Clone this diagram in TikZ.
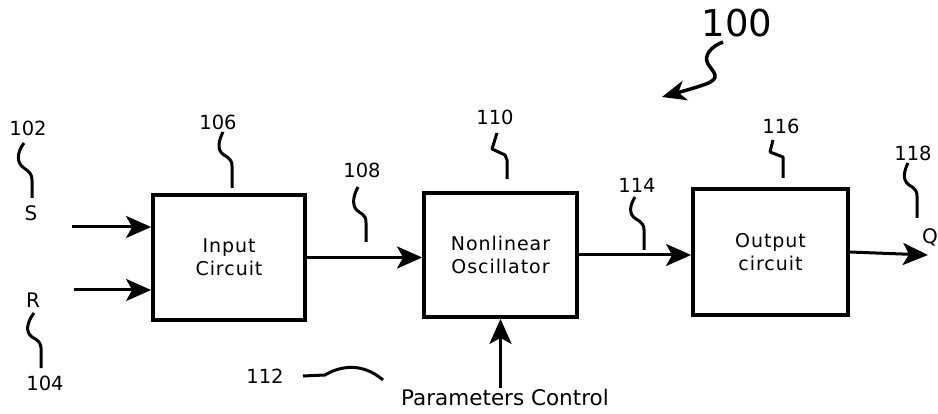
\documentclass[tikz,border=0pt]{standalone}
\usepackage{fontspec}
\setmainfont{DejaVu Sans}
\usetikzlibrary{arrows.meta}
\tikzset{
  blk/.style={draw, line width=3.8pt, minimum width=#1, inner sep=0pt, align=center, font=\fontsize{19}{23}\selectfont\addfontfeatures{LetterSpace=5}},
  arr/.style={line width=3pt, -{Stealth[length=25pt, width=22pt, inset=6pt]}},
  lead/.style={line width=3pt, line join=round},
  num/.style={font=\fontsize{19.5}{21}\selectfont, inner sep=0pt},
  sig/.style={font=\fontsize{20}{22}\selectfont, inner sep=0pt},
}
\begin{document}
\begin{tikzpicture}[x=1pt, y=-1pt]
\useasboundingbox (0,0) rectangle (938,414);
% blocks
\node[blk=152pt, minimum height=125pt] (in) at (229,257.5) {Input\\Circuit};
\node[blk=153pt, minimum height=124pt] (osc) at (500.5,255) {Nonlinear\\Oscillator};
\node[blk=155pt, minimum height=126pt] (out) at (770.5,252) {Output\\circuit};
% signal labels
\node[sig] (s) at (31,213) {S};
\node[sig] (r) at (33,300) {R};
\node[sig] (q) at (930,237) {Q};
\node[font=\fontsize{21.5}{24}\selectfont, inner sep=0pt] (par) at (505,397) {Parameters Control};
% free ends
\coordinate (sin) at (72,227);
\coordinate (rin) at (74,290);
\coordinate (qout) at (928,255);
% connectors
\draw[arr] (sin) -- (sin -| in.west);
\draw[arr] (rin) -- (rin -| in.west);
\draw[arr] (in.east) -- (in.east -| osc.west);
\draw[arr] (osc.east) -- (osc.east -| out.west);
\draw[arr] (out.east) -- (qout);
\draw[arr] (par.north -| osc.south) -- (osc.south);
% reference numbers
\node[num] (n102) at (28,128) {102};
\node[num] (n104) at (45,383) {104};
\node[num] (n106) at (218,122) {106};
\node[num] (n108) at (362,170) {108};
\node[num] (n110) at (495,117) {110};
\node[num] (n112) at (265,376) {112};
\node[num] (n114) at (637,185) {114};
\node[num] (n116) at (781,126) {116};
\node[num] (n118) at (913,153) {118};
\node[font=\fontsize{37}{40}\selectfont, inner sep=0pt] (n100) at (737,23) {100};
% leaders
\draw[lead] (24,143) .. controls (17,152) and (16,163) .. (24,168) .. controls (30,172) and (32,175) .. (32,180) -- (32,198);
\draw[lead] (34,313) .. controls (27,322) and (25,332) .. (32,337) .. controls (38,340) and (41,343) .. (41,348) -- (41,368);
\draw[lead] (223,132) .. controls (219,140) and (216,150) .. (224,155) .. controls (231,159) and (232,162) .. (232,166) -- (232,188);
\draw[lead] (358,187) .. controls (353,196) and (351,207) .. (359,212) .. controls (366,216) and (366,219) .. (366,223) -- (366,242);
\draw[lead] (497,133) -- (492,149) -- (505,155) -- (507,160) -- (507,179);
\draw[lead] (635,197) .. controls (630,205) and (628,214) .. (636,219) .. controls (643,223) and (644,226) .. (644,230) -- (644,250);
\draw[lead] (773,140) -- (770,152) -- (783,157) -- (783,178);
\draw[lead] (908,163) .. controls (904,171) and (902,180) .. (909,185) .. controls (916,189) and (917,192) .. (917,196) -- (917,218);
\draw[lead] (303,376) -- (325,375) .. controls (340,366) and (362,362) .. (383,380);
\draw[line width=3.5pt, -{Stealth[length=24pt, width=20pt, inset=7pt]}] (723,42) .. controls (712,46) and (703,55) .. (708,64) .. controls (713,72) and (722,78) .. (706,84) .. controls (695,88) and (680,92) .. (662,97);
\end{tikzpicture}
\end{document}
